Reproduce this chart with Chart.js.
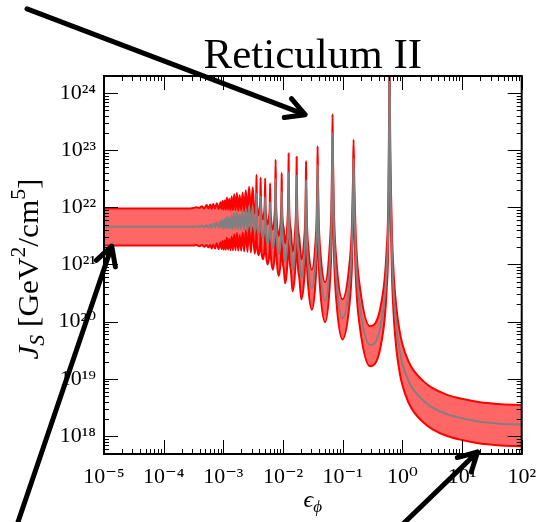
<!DOCTYPE html>
<html><head><meta charset="utf-8">
<script src="https://cdn.jsdelivr.net/npm/chart.js@4.4.1/dist/chart.umd.min.js"></script>
<style>html,body{margin:0;padding:0;background:#fff;}canvas{display:block;}</style>
</head><body>
<canvas id="c" width="546" height="522"></canvas>
<script>
// ---- data (log10 values) ----
const logEps = [
 -5.00,-4.00,-3.60,-3.50,-3.45,-3.40,-3.36,-3.32,-3.28,-3.25,-3.22,-3.195,-3.170,-3.140,
 -3.110,
 -3.078,-3.046,-3.029,-3.012,-2.995,-2.977,-2.958,-2.940,-2.920,-2.901,
 -2.881,-2.861,-2.840,-2.818,-2.796,-2.773,-2.750,-2.726,-2.702,-2.677,
 -2.651,-2.624,-2.596,-2.568,-2.538,-2.508,-2.476,-2.457,-2.449,-2.444,
 -2.439,-2.430,-2.410,-2.389,-2.380,-2.375,-2.369,-2.360,-2.337,-2.314,
 -2.305,-2.299,-2.293,-2.283,-2.258,-2.233,-2.222,-2.216,-2.209,-2.198,
 -2.170,-2.142,-2.131,-2.124,-2.116,-2.104,-2.073,-2.042,-2.030,-2.025,
 -2.022,-2.019,-2.013,-1.987,-1.964,-1.929,-1.915,-1.909,-1.906,-1.903,
 -1.896,-1.866,-1.839,-1.799,-1.782,-1.775,-1.772,-1.768,-1.760,-1.725,
 -1.693,-1.646,-1.626,-1.618,-1.614,-1.609,-1.600,-1.575,-1.517,-1.459,
 -1.435,-1.425,-1.420,-1.414,-1.401,-1.370,-1.295,-1.220,-1.189,-1.176,
 -1.170,-1.162,-1.145,-1.104,-1.004,-0.892,-0.846,-0.827,-0.818,-0.804,
 -0.776,-0.707,-0.540,-0.346,-0.265,-0.232,-0.221,-0.216,-0.205,-0.190,
 -0.170,-0.140,-0.100,-0.050,0.000,0.100,0.200,0.350,0.500,0.750,
 1.000,1.300,1.600,2.000];
const logJmedian = [
 21.66,21.66,21.66,21.66,21.67,21.655,21.68,21.65,21.69,21.645,21.70,21.64,21.72,21.65,
 21.74,
 21.64,21.76,21.64,21.78,21.63,21.79,21.63,21.84,21.63,21.82,
 21.62,21.86,21.62,21.90,21.62,21.92,21.61,21.88,21.61,21.93,
 21.60,21.97,21.59,22.03,21.58,22.02,21.56,21.70,21.88,22.24,
 21.83,21.66,21.53,21.66,21.83,22.19,21.78,21.59,21.46,21.60,
 21.78,22.18,21.73,21.53,21.37,21.51,21.69,22.09,21.64,21.44,
 21.28,21.52,21.83,22.50,21.77,21.44,21.17,21.39,21.66,22.00,
 22.27,21.96,21.59,21.29,21.04,21.35,21.74,22.22,22.61,22.16,
 21.66,21.24,20.90,21.23,21.64,22.14,22.55,22.10,21.57,21.12,
 20.76,21.10,21.53,22.05,22.48,22.01,21.44,20.96,20.58,21.01,
 21.55,22.20,22.74,22.15,21.43,20.84,20.36,20.95,21.68,22.57,
 23.30,22.49,21.52,20.71,20.06,20.62,21.32,22.15,22.85,22.04,
 21.06,20.24,19.59,20.04,20.90,22.00,23.50,25.00,23.00,21.90,
 21.05,20.40,19.90,19.52,19.27,18.97,18.79,18.62,18.50,18.38,
 18.31,18.25,18.22,18.20];
const logJupper = [
 21.98,21.98,21.98,21.99,22.00,21.99,22.02,21.98,22.04,21.98,22.05,21.97,22.06,21.98,
 22.07,
 21.97,22.09,21.97,22.11,21.96,22.12,21.96,22.17,21.96,22.15,
 21.95,22.19,21.95,22.23,21.95,22.25,21.94,22.21,21.94,22.26,
 21.93,22.30,21.92,22.36,21.91,22.35,21.89,22.03,22.21,22.57,
 22.16,21.99,21.86,21.99,22.16,22.52,22.11,21.92,21.79,21.93,
 22.11,22.51,22.06,21.86,21.70,21.84,22.02,22.42,21.97,21.77,
 21.61,21.85,22.16,22.83,22.10,21.77,21.50,21.72,21.99,22.33,
 22.60,22.29,21.92,21.62,21.37,21.68,22.07,22.55,22.94,22.49,
 21.99,21.57,21.23,21.56,21.97,22.47,22.88,22.43,21.90,21.45,
 21.09,21.43,21.86,22.38,22.81,22.34,21.77,21.29,20.91,21.34,
 21.88,22.53,23.07,22.48,21.76,21.17,20.69,21.28,22.01,22.90,
 23.63,22.82,21.85,21.04,20.39,20.95,21.65,22.48,23.18,22.37,
 21.39,20.57,19.92,20.37,21.23,22.33,23.83,25.33,23.33,22.24,
 21.39,20.74,20.24,19.86,19.61,19.31,19.13,18.96,18.84,18.72,
 18.65,18.59,18.56,18.54];
const logJlower = [
 21.33,21.33,21.33,21.33,21.34,21.32,21.34,21.31,21.34,21.30,21.34,21.28,21.35,21.28,
 21.37,
 21.27,21.39,21.27,21.41,21.26,21.42,21.26,21.47,21.26,21.45,
 21.25,21.49,21.25,21.53,21.25,21.55,21.24,21.51,21.24,21.56,
 21.23,21.60,21.22,21.66,21.21,21.65,21.19,21.33,21.51,21.87,
 21.46,21.29,21.16,21.29,21.46,21.82,21.41,21.22,21.09,21.23,
 21.41,21.81,21.36,21.16,21.00,21.14,21.32,21.72,21.27,21.07,
 20.91,21.15,21.46,22.13,21.40,21.07,20.80,21.02,21.29,21.63,
 21.90,21.59,21.22,20.92,20.67,20.98,21.37,21.85,22.24,21.79,
 21.29,20.87,20.53,20.86,21.27,21.77,22.18,21.73,21.20,20.75,
 20.39,20.73,21.16,21.68,22.11,21.64,21.07,20.59,20.21,20.64,
 21.18,21.83,22.37,21.78,21.06,20.47,19.99,20.58,21.31,22.20,
 22.93,22.12,21.15,20.34,19.69,20.25,20.95,21.78,22.48,21.67,
 20.69,19.87,19.22,19.67,20.53,21.63,23.13,24.63,22.63,21.52,
 20.67,20.02,19.52,19.14,18.89,18.59,18.41,18.24,18.12,18.00,
 17.93,17.87,17.84,17.82];

const xTickValues = [1e-5,1e-4,1e-3,1e-2,1e-1,1e0,1e1,1e2];
const xTickLabels = ['10\u207B\u2075','10\u207B\u2074','10\u207B\u00B3','10\u207B\u00B2','10\u207B\u00B9','10\u2070','10\u00B9','10\u00B2'];
const yTickValues = [1e18,1e19,1e20,1e21,1e22,1e23,1e24];
const yTickLabels = ['10\u00B9\u2078','10\u00B9\u2079','10\u00B2\u2070','10\u00B2\u00B9','10\u00B2\u00B2','10\u00B2\u00B3','10\u00B2\u2074'];
const minorMultipliers = [2,3,4,5,6,7,8,9];

// annotation arrows, in data coordinates (log10)
const arrowTailLogX = [-6.29, -6.44, 0.01];
const arrowTailLogY = [25.47, 16.50, 16.46];
const arrowTipLogX  = [-1.63, -4.87, 1.26];
const arrowTipLogY  = [23.62, 21.32, 17.72];

const titleText = 'Reticulum II';
const FONT = "'Liberation Serif','DejaVu Serif',serif";

const pts = ys => logEps.map((lx,i)=>({x:Math.pow(10,lx), y:Math.pow(10,ys[i])}));

const framePlugin = {
  id:'frame',
  afterDatasetsDraw(chart){
    const {ctx, chartArea:a, scales:{x,y}} = chart;
    ctx.save();
    ctx.strokeStyle='#000';
    ctx.lineWidth=1;
    ctx.beginPath();
    const xt=(v,len)=>{const p=Math.round(x.getPixelForValue(v))+0.5; ctx.moveTo(p,a.bottom); ctx.lineTo(p,a.bottom-len); ctx.moveTo(p,a.top); ctx.lineTo(p,a.top+len);};
    const yt=(v,len)=>{const p=Math.round(y.getPixelForValue(v))+0.5; ctx.moveTo(a.left,p); ctx.lineTo(a.left+len,p); ctx.moveTo(a.right,p); ctx.lineTo(a.right-len,p);};
    for(let e=-5;e<2;e++) minorMultipliers.forEach(m=>xt(m*Math.pow(10,e),5));
    xTickValues.forEach(v=>xt(v,14));
    for(let e=17;e<=24;e++) minorMultipliers.forEach(m=>{const v=m*Math.pow(10,e); if(v>y.min&&v<y.max) yt(v,5);});
    yTickValues.forEach(v=>yt(v,14));
    ctx.stroke();
    ctx.lineWidth=2;
    ctx.strokeRect(a.left,a.top,a.right-a.left,a.bottom-a.top);
    ctx.restore();
  },
  afterDraw(chart){
    const {ctx, chartArea:a, scales:{x,y}} = chart;
    ctx.save();
    ctx.fillStyle='#000';
    ctx.textBaseline='alphabetic';
    // y axis title
    ctx.save();
    ctx.translate(38, 269);
    ctx.rotate(-Math.PI/2);
    ctx.scale(1.08,1);
    const yParts=[
      {t:'J',f:'italic 29px '+FONT,dy:0},
      {t:'S',f:'italic 20px '+FONT,dy:6},
      {t:' [GeV',f:'29px '+FONT,dy:0},
      {t:'2',f:'20px '+FONT,dy:-13},
      {t:'/cm',f:'29px '+FONT,dy:0},
      {t:'5',f:'20px '+FONT,dy:-13},
      {t:']',f:'29px '+FONT,dy:0}];
    let w=0; yParts.forEach(p=>{ctx.font=p.f; p.w=ctx.measureText(p.t).width; w+=p.w;});
    let cx=-w/2;
    yParts.forEach(p=>{ctx.font=p.f; ctx.fillText(p.t,cx,p.dy); cx+=p.w;});
    ctx.restore();
    // x axis title
    const xParts=[
      {t:'\u03F5',f:'italic 24px '+FONT,dy:0},
      {t:'\u03D5',f:'italic 17px '+FONT,dy:5}];
    w=0; xParts.forEach(p=>{ctx.font=p.f; p.w=ctx.measureText(p.t).width; w+=p.w;});
    cx=(a.left+a.right)/2 - w/2;
    xParts.forEach(p=>{ctx.font=p.f; ctx.fillText(p.t,cx,507+p.dy); cx+=p.w;});
    // arrows
    ctx.strokeStyle='#000';
    ctx.lineWidth=5;
    ctx.lineCap='round';
    ctx.lineJoin='round';
    for(let i=0;i<arrowTipLogX.length;i++){
      const x0=x.getPixelForValue(Math.pow(10,arrowTailLogX[i])), y0=y.getPixelForValue(Math.pow(10,arrowTailLogY[i]));
      const x1=x.getPixelForValue(Math.pow(10,arrowTipLogX[i])),  y1=y.getPixelForValue(Math.pow(10,arrowTipLogY[i]));
      const ang=Math.atan2(y1-y0,x1-x0);
      ctx.beginPath();
      ctx.moveTo(x0,y0); ctx.lineTo(x1,y1);
      const L=21, sp=0.5;
      ctx.moveTo(x1-L*Math.cos(ang-sp), y1-L*Math.sin(ang-sp));
      ctx.lineTo(x1,y1);
      ctx.lineTo(x1-L*Math.cos(ang+sp), y1-L*Math.sin(ang+sp));
      ctx.stroke();
    }
    ctx.restore();
  }
};

const common = {pointRadius:0, borderWidth:2, cubicInterpolationMode:'monotone', clip:0};
new Chart(document.getElementById('c'), {
  type:'line',
  data:{datasets:[
    Object.assign({label:'median', data:pts(logJmedian), borderColor:'#808080', fill:false}, common),
    Object.assign({label:'upper', data:pts(logJupper), borderColor:'#ff0000', fill:'+1', backgroundColor:'rgba(255,0,0,0.6)'}, common),
    Object.assign({label:'lower', data:pts(logJlower), borderColor:'#ff0000', fill:false}, common)
  ]},
  options:{
    responsive:false, animation:false, devicePixelRatio:1,
    layout:{padding:{left:0,right:14,top:0,bottom:0}},
    plugins:{
      legend:{display:false}, tooltip:{enabled:false},
      filler:{drawTime:'beforeDatasetsDraw'},
      title:{display:true, text:titleText, fullSize:false, color:'#000',
        font:{family:FONT, size:43, weight:'normal', lineHeight:0.9}, padding:{top:37,bottom:0.3}}
    },
    scales:{
      x:{type:'logarithmic', min:1e-5, max:1e2,
        afterBuildTicks:s=>{s.ticks=xTickValues.map(v=>({value:v}));},
        afterFit:s=>{s.height=68;},
        ticks:{callback:(v,i)=>xTickLabels[i], color:'#000', font:{family:FONT,size:22}, padding:10, maxRotation:0, autoSkip:false},
        grid:{display:false, drawTicks:false}, border:{display:false}},
      y:{type:'logarithmic', min:Math.pow(10,17.685), max:Math.pow(10,24.297),
        afterBuildTicks:s=>{s.ticks=yTickValues.map(v=>({value:v}));},
        afterFit:s=>{s.width=104;},
        ticks:{callback:(v,i)=>yTickLabels[i], color:'#000', font:{family:FONT,size:22}, padding:8, autoSkip:false},
        grid:{display:false, drawTicks:false}, border:{display:false}}
    }
  },
  plugins:[framePlugin]
});
</script>
</body></html>
